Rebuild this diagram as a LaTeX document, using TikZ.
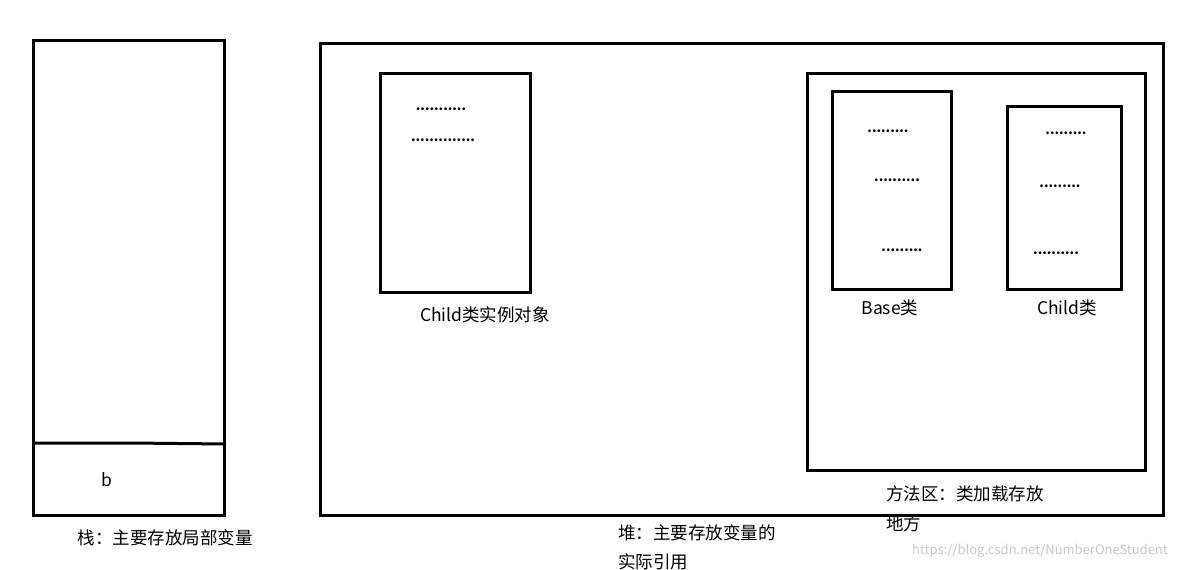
\documentclass[tikz,border=0pt]{standalone}
\usepackage{fontspec}
\setmainfont{Noto Sans CJK SC}
\begin{document}
\begin{tikzpicture}[x=1pt,y=-1pt,
  box/.style={draw,line width=3pt},
  lbl/.style={font=\fontsize{17.5}{20}\selectfont,inner sep=0pt},
  dots/.style={font=\fontsize{13}{16}\bfseries\selectfont,inner sep=0pt}]
\useasboundingbox (0,0) rectangle (1194,570);
\draw[box] (33,40) rectangle (224,515);
\coordinate (sl) at (33,443); \coordinate (sm) at (130,443); \coordinate (sr) at (226,444);
\draw[line width=3pt] (sl) -- (sm) -- (sr);
\node[lbl] (b) at (107,480) {b};
\node[lbl] (stk) at (165,538) {栈：主要存放局部变量};
\draw[box] (320,43) rectangle (1163,515);
\draw[box] (380,73) rectangle (530,292);
\node[dots] (d1) at (441,109) {...........};
\node[dots] (d2) at (443,140) {..............};
\node[lbl] (ci) at (485,315) {Child类实例对象};
\draw[box] (807,73) rectangle (1145,470);
\draw[box] (832,91) rectangle (951,289);
\node[dots] (d3) at (888,131) {.........};
\node[dots] (d4) at (897,180) {..........};
\node[dots] (d5) at (902,250) {.........};
\node[lbl] (bl) at (890,308) {Base类};
\draw[box] (1007,106) rectangle (1121,289);
\node[dots] (d6) at (1066,133) {.........};
\node[dots] (d7) at (1060,186) {.........};
\node[dots] (d8) at (1056,253) {..........};
\node[lbl] (cl) at (1067,308) {Child类};
\node[lbl,anchor=west] (m1) at (886,494) {方法区：类加载存放};
\node[lbl,anchor=west] (m2) at (886,524) {地方};
\node[lbl,anchor=west] (h1) at (618,533) {堆：主要存放变量的};
\node[lbl,anchor=west] (h2) at (618,562) {实际引用};
\node[font=\fontsize{13}{15}\selectfont,text=black!22,inner sep=0pt] (wm) at (1040,551) {https://blog.csdn.net/NumberOneStudent};
\end{tikzpicture}
\end{document}
